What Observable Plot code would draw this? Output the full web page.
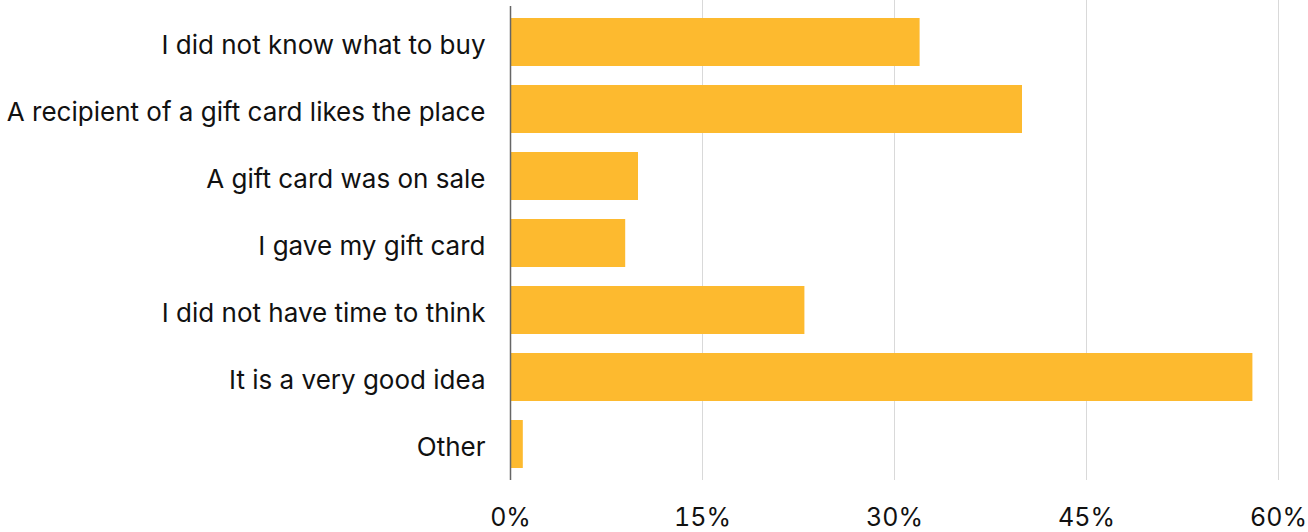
<!DOCTYPE html>
<html>
<head>
<meta charset="utf-8">
<script src="https://cdn.jsdelivr.net/npm/d3@7"></script>
<script src="https://cdn.jsdelivr.net/npm/@observablehq/plot@0.6"></script>
<style>
  html, body { margin: 0; padding: 0; background: #fff; }
</style>
</head>
<body>
<div id="chart"></div>
<script>
const categories = [
  "I did not know what to buy",
  "A recipient of a gift card likes the place",
  "A gift card was on sale",
  "I gave my gift card",
  "I did not have time to think",
  "It is a very good idea",
  "Other"
];
const values = [32, 40, 10, 9, 23, 58, 1];
const xTicks = [0, 15, 30, 45, 60];

const data = categories.map((c, i) => ({category: c, value: values[i]}));

const chart = Plot.plot({
  width: 1308,
  height: 532,
  marginLeft: 510,
  marginRight: 30,
  marginTop: 6,
  marginBottom: 52,
  style: {fontFamily: "Inter, sans-serif", fontSize: "26px", color: "#111", background: "#fff"},
  x: {domain: [0, 60], ticks: xTicks, tickFormat: d => d + "%", label: null},
  y: {domain: categories, paddingInner: 0.287, paddingOuter: 0.163, label: null},
  marks: [
    Plot.ruleX(xTicks.filter(d => d > 0), {stroke: "#d9d9d9", strokeWidth: 1, insetTop: -6}),
    Plot.barX(data, {x: "value", y: "category", fill: "#FDBA2F"}),
    Plot.ruleX([0], {stroke: "#666", strokeWidth: 1.5}),
    Plot.axisX({ticks: xTicks, tickFormat: d => d + "%", tickSize: 0, tickPadding: 28, fontSize: 25, label: null}),
    Plot.axisY({tickSize: 0, tickPadding: 25, fontSize: 26, dy: 3, label: null})
  ]
});
document.getElementById("chart").appendChild(chart);
</script>
</body>
</html>
